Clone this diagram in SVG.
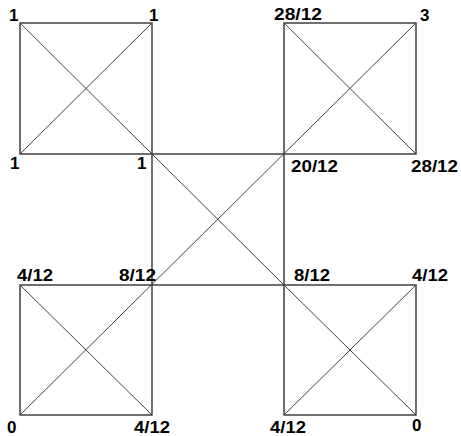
<svg xmlns="http://www.w3.org/2000/svg" width="461" height="436" viewBox="0 0 461 436">
<style>
.sq{fill:none;stroke:#333;stroke-width:1.4}
.dg{stroke:#444;stroke-width:1}
text{font-family:"Liberation Sans",Arial,sans-serif;font-weight:bold;font-size:17px;fill:#000}
</style>
<rect width="461" height="436" fill="#fff"/>
<g id="sq-tl"><rect class="sq" x="20" y="23" width="132" height="131"/></g>
<g id="sq-tr"><rect class="sq" x="284" y="23" width="132" height="131"/></g>
<g id="sq-c"><rect class="sq" x="152" y="154" width="132" height="131"/></g>
<g id="sq-bl"><rect class="sq" x="20" y="285" width="132" height="130"/></g>
<g id="sq-br"><rect class="sq" x="284" y="285" width="132" height="130"/></g>
<g id="connectors">
<line class="dg" x1="20" y1="23" x2="284" y2="285"/>
<line class="dg" x1="284" y1="285" x2="416" y2="415"/>
<line class="dg" x1="152" y1="23" x2="20" y2="154"/>
<line class="dg" x1="416" y1="23" x2="20" y2="415"/>
<line class="dg" x1="284" y1="23" x2="416" y2="154"/>
<line class="dg" x1="20" y1="285" x2="152" y2="415"/>
<line class="dg" x1="416" y1="285" x2="284" y2="415"/>
</g>
<g id="labels">
<text x="9" y="21">1</text>
<text x="149" y="21">1</text>
<text x="10" y="169">1</text>
<text x="137" y="169">1</text>
<text x="274" y="20" textLength="48" lengthAdjust="spacingAndGlyphs">28/12</text>
<text x="420" y="21">3</text>
<text x="291" y="172" textLength="47" lengthAdjust="spacingAndGlyphs">20/12</text>
<text x="411" y="172" textLength="47" lengthAdjust="spacingAndGlyphs">28/12</text>
<text x="17" y="281" textLength="36" lengthAdjust="spacingAndGlyphs">4/12</text>
<text x="119" y="281" textLength="37" lengthAdjust="spacingAndGlyphs">8/12</text>
<text x="294" y="281" textLength="36" lengthAdjust="spacingAndGlyphs">8/12</text>
<text x="412" y="281" textLength="36" lengthAdjust="spacingAndGlyphs">4/12</text>
<text x="7" y="433">0</text>
<text x="134" y="433" textLength="36" lengthAdjust="spacingAndGlyphs">4/12</text>
<text x="270" y="433" textLength="36" lengthAdjust="spacingAndGlyphs">4/12</text>
<text x="412" y="431">0</text>
</g>
</svg>
